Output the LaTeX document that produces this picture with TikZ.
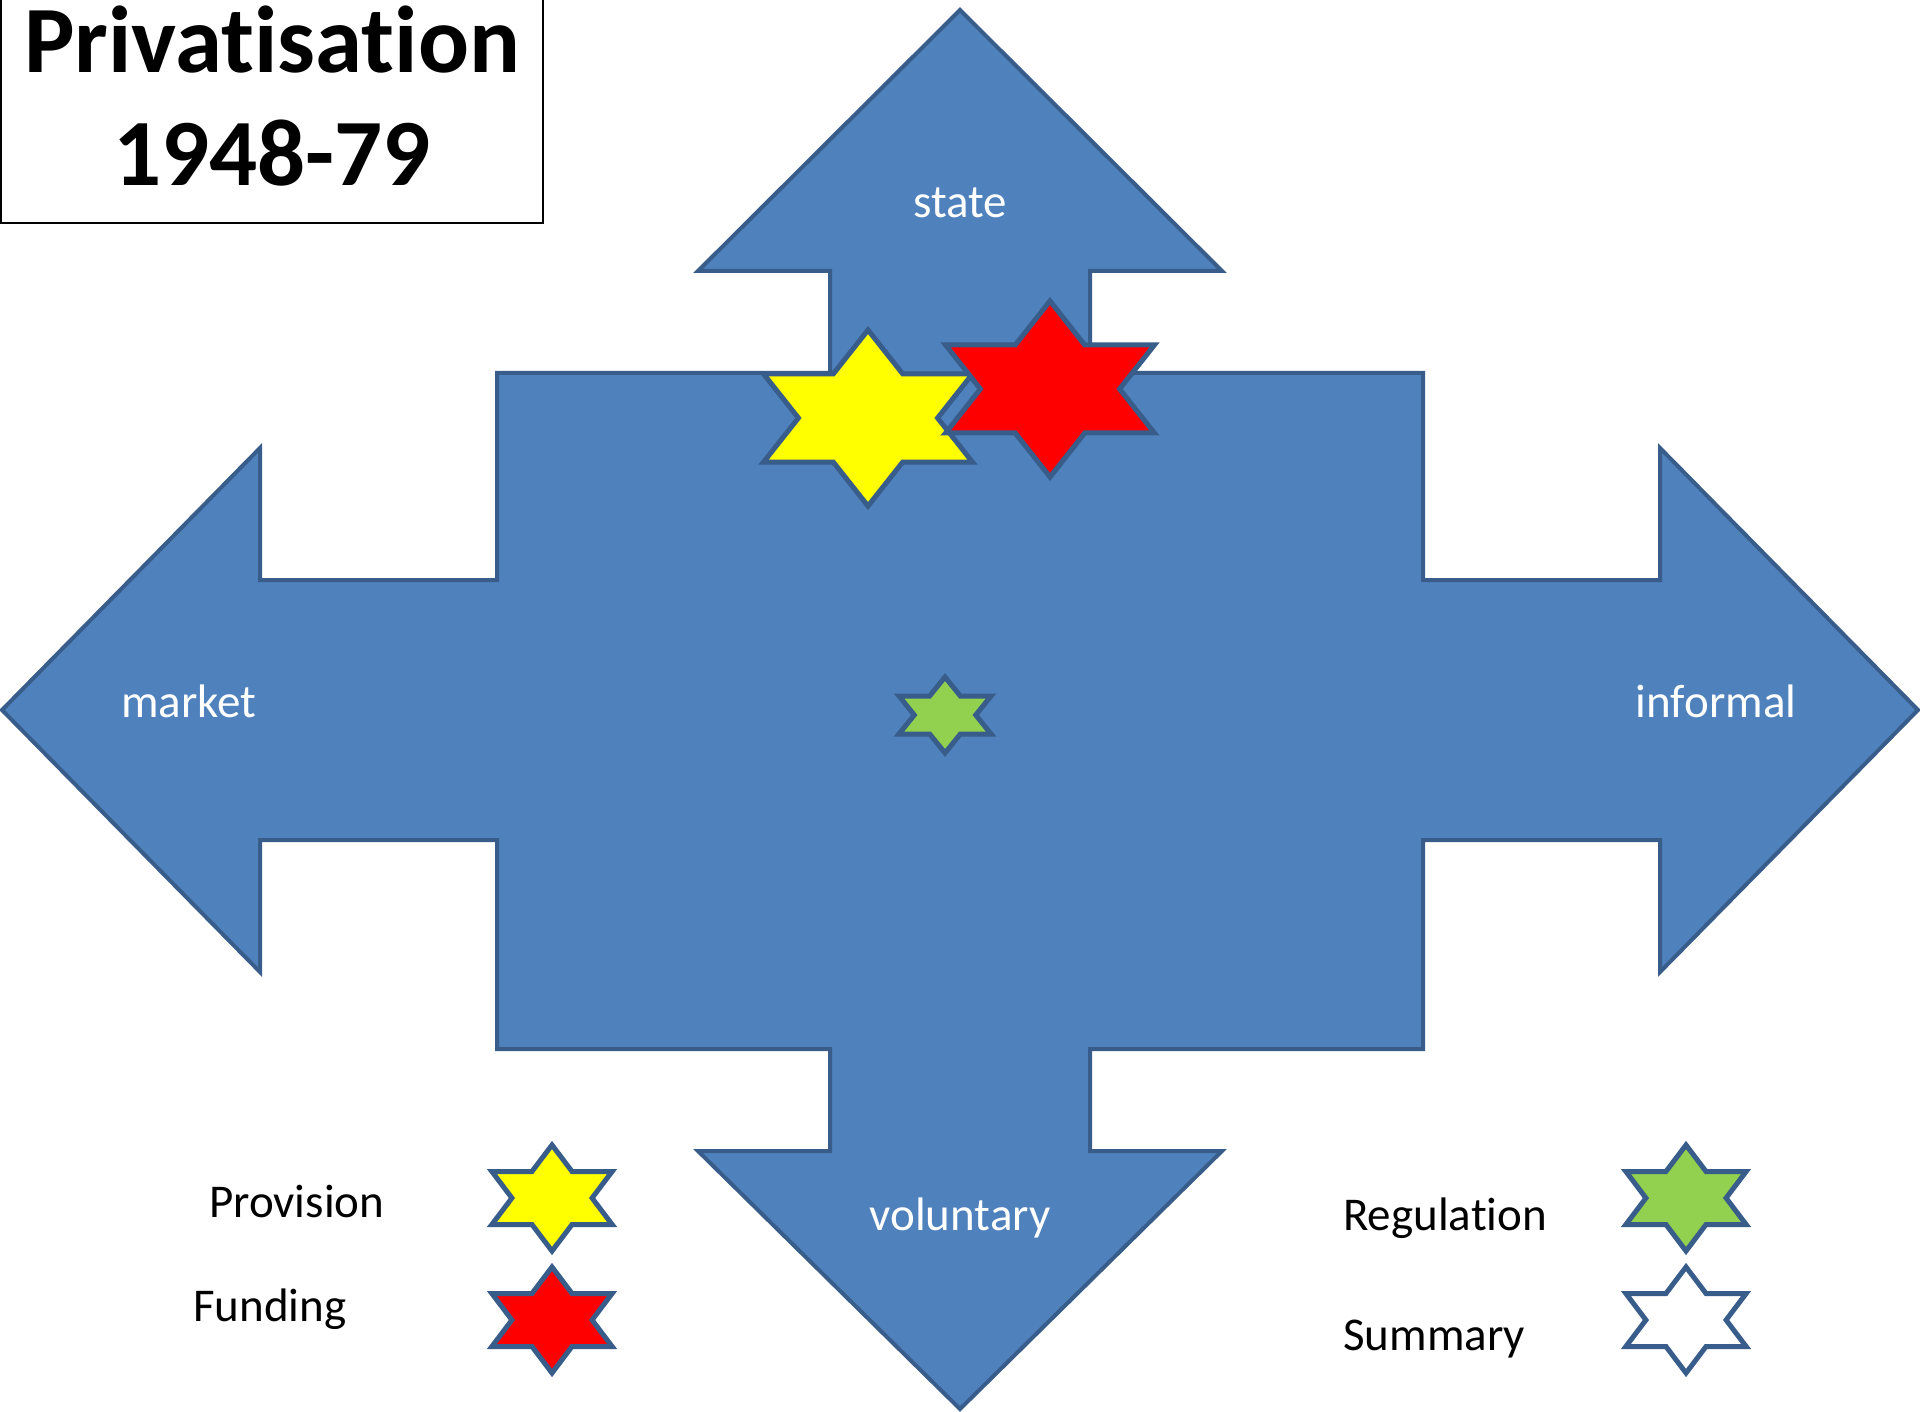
\documentclass[tikz,border=0pt]{standalone}
\usepackage{fontspec}
\setmainfont[Ligatures={NoCommon}]{Carlito}
\definecolor{arrowfill}{HTML}{4F81BD}
\definecolor{arrowline}{HTML}{385D8A}
\definecolor{stargreen}{HTML}{92D050}
\definecolor{staryellow}{HTML}{FFFF00}
\definecolor{starred}{HTML}{FF0000}
\newcommand\hexstar[5]{\draw[starline,fill=#5] ({#1},{#2-#3}) \foreach \k in {1,...,11}{ -- ({#1+#4*#3*(1-0.42265*mod(\k,2))*cos(90+30*\k)},{#2-#3*(1-0.42265*mod(\k,2))*sin(90+30*\k)}) } -- cycle;}
\begin{document}
\begin{tikzpicture}[x=1pt,y=-1pt,
  arrowshape/.style={draw=arrowline,fill=arrowfill,line width=4pt,line join=miter},
  starline/.style={draw=arrowline,line width=5pt,line join=miter},
  wlabel/.style={text=white,font=\fontsize{47}{56}\selectfont,inner sep=0pt},
  blabel/.style={text=black,font=\fontsize{47}{56}\selectfont,inner sep=0pt,anchor=west},
  titletext/.style={font=\bfseries\fontsize{95}{110}\selectfont,inner sep=0pt,anchor=base}]
\useasboundingbox (0,0) rectangle (1920,1412);
\fill[white] (0,0) rectangle (1920,1412);
% title box
\draw[line width=2.5pt] (1,-10) rectangle (543,223);
\node[titletext] (t1) at (272,73) {Privat\kern0pt isat\kern0pt ion};
\node[titletext] (t2) at (272,186) {1948-79};
% four-way arrow
\draw[arrowshape] (960,10) -- (1222,271) -- (1090,271) -- (1090,373) -- (1423,373) -- (1423,580)
  -- (1660,580) -- (1660,448) -- (1918,710) -- (1660,972) -- (1660,840) -- (1423,840)
  -- (1423,1049) -- (1090,1049) -- (1090,1151) -- (1222,1151) -- (960,1409) -- (698,1151)
  -- (830,1151) -- (830,1049) -- (497,1049) -- (497,840) -- (260,840) -- (260,972)
  -- (2,710) -- (260,448) -- (260,580) -- (497,580) -- (497,373) -- (830,373)
  -- (830,271) -- (698,271) -- cycle;
\node[wlabel] (state) at (960,203) {state};
\node[wlabel] (market) at (189,701) {market};
\node[wlabel] (informal) at (1716,701) {informal};
\node[wlabel] (voluntary) at (960,1218) {voluntary};
% stars on diagram
\hexstar{868}{418}{88}{1.37}{staryellow}
\hexstar{1050}{389}{88}{1.37}{starred}
\hexstar{945}{715}{38}{1.40}{stargreen}
% legend
\node[blabel] (prov) at (209,1201) {Provision};
\node[blabel] (fund) at (193,1309) {Funding};
\node[blabel] (reg) at (1343,1218) {Regulat\kern0pt ion};
\node[blabel] (sum) at (1343,1339) {Summary};
\hexstar{552}{1198}{53}{1.31}{staryellow}
\hexstar{552}{1320}{53}{1.31}{starred}
\hexstar{1686}{1198}{53}{1.31}{stargreen}
\hexstar{1686}{1320}{53}{1.31}{white}
\end{tikzpicture}
\end{document}
